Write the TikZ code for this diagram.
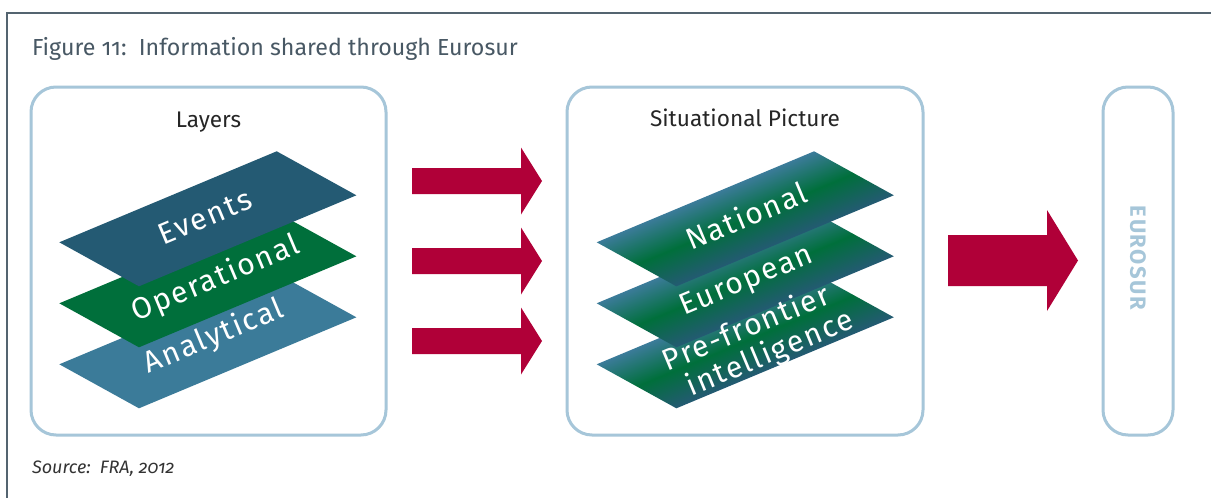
\documentclass[tikz,border=0pt]{standalone}
\usepackage{fontspec}
\setmainfont{Fira Sans}[Numbers=OldStyle]

\definecolor{framegray}{RGB}{84,100,112}
\definecolor{titlegray}{RGB}{72,88,100}
\definecolor{boxblue}{RGB}{166,198,217}
\definecolor{eventsblue}{RGB}{36,90,115}
\definecolor{opgreen}{RGB}{0,111,59}
\definecolor{analyticblue}{RGB}{59,123,153}
\definecolor{arrowred}{RGB}{176,0,56}

\begin{document}
\begin{tikzpicture}[x=0.5pt,y=-0.5pt,
    panel/.style={draw=boxblue,line width=1.5pt,rounded corners=12.5pt,minimum height=174pt},
    heading/.style={text=black!85,font=\fontsize{11.3}{14}\selectfont,inner sep=0pt,anchor=base},
    layertext/.style={text=white,rotate=22.7,font=\fontsize{15}{16}\selectfont\addfontfeature{LetterSpace=6},align=center,inner sep=0pt}]
\useasboundingbox (0,0) rectangle (1211,498);
\fill[white] (0,0) rectangle (1211,498);
\draw[framegray,line width=1pt] (7,498) -- (7,12.5) -- (1211,12.5);

% title and source
\node[anchor=base west,inner sep=0pt,text=titlegray,font=\fontsize{11.6}{14}\selectfont] (title) at (31.7,55) {Figure 11:\ \ Information shared through Eurosur};
\node[anchor=base west,inner sep=0pt,text=black!80,font=\fontsize{9}{10}\selectfont\itshape] (source) at (31.7,473.3) {Source:\ \ FRA, 2012};

% panels
\node[panel,minimum width=177.5pt] (layers) at (208.5,261) {};
\node[panel,minimum width=178pt] (picture) at (745,261) {};
\node[panel,minimum width=35pt] (eurosur) at (1138,261) {};
\node[heading] (layerstitle) at (208.5,127) {Layers};
\node[heading] (picturetitle) at (745,126) {Situational Picture};
\node[rotate=-90,text=boxblue,font=\fontsize{11}{13}\selectfont\bfseries\addfontfeature{LetterSpace=7}] (eurosurtext) at (1138,258) {EUROSUR};

% layers
\fill[analyticblue] (59.3,364.3) -- ++(217.4,-91) -- ++(79.7,44) -- ++(-217.4,91) -- cycle;
\fill[opgreen] (59.3,303.3) -- ++(217.4,-91) -- ++(79.7,44) -- ++(-217.4,91) -- cycle;
\fill[eventsblue] (59.3,242.3) -- ++(217.4,-91) -- ++(79.7,44) -- ++(-217.4,91) -- cycle;
\node[layertext] (analytical) at (214,337) {Analytical};
\node[layertext] (operational) at (216,279) {Operational};
\node[layertext] (events) at (205,217) {Events};

% situational picture
\foreach \y in {364.3,303.3,242.3}{
  \begin{scope}[transform canvas={cm={108.7,45.5,39.85,-22,(596.7,\y)}}]
    \shade[bottom color=analyticblue,top color=eventsblue,middle color=opgreen] (0,0) rectangle (1pt,1pt);
  \end{scope}
}
\node[layertext] (prefrontier) at (753,344) {Pre-frontier\\\hspace*{12pt}intelligence};
\node[layertext] (european) at (747,282) {European};
\node[layertext] (national) at (746,215.5) {National};

% arrows
\foreach \y in {181,261,341}
  \fill[arrowred] (412,\y-13) -- (521,\y-13) -- (521,\y-33.5) -- (542,\y) -- (521,\y+33.5) -- (521,\y+13) -- (412,\y+13) -- cycle;
\fill[arrowred] (948,235) -- (1047,235) -- (1047,210) -- (1078,260.5) -- (1047,311) -- (1047,286) -- (948,286) -- cycle;
\end{tikzpicture}
\end{document}
